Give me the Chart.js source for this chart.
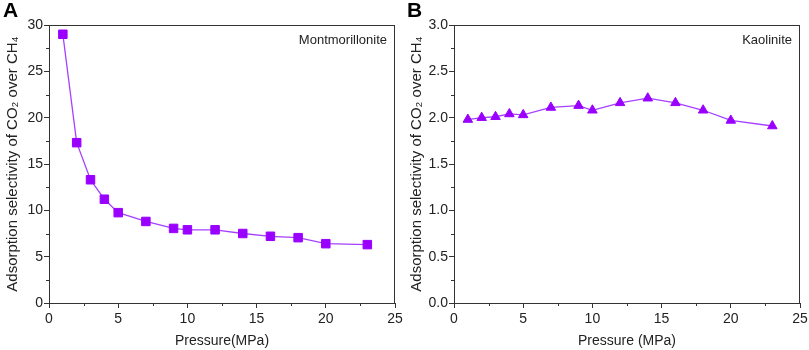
<!DOCTYPE html>
<html>
<head>
<meta charset="utf-8">
<script src="https://cdn.jsdelivr.net/npm/chart.js@4"></script>
<style>
  html, body { margin: 0; padding: 0; background: #fff; }
  #wrap { position: relative; width: 809px; height: 350px; }
  canvas { position: absolute; top: 0; }
  #chartA { left: 0; }
  #chartB { left: 404px; }
</style>
</head>
<body>
<div id="wrap">
  <canvas id="chartA" width="404" height="350"></canvas>
  <canvas id="chartB" width="405" height="350"></canvas>
</div>
<script>
// pressure values (MPa), same for both panels
const pressure = [1, 2, 3, 4, 5, 7, 9, 10, 12, 14, 16, 18, 20, 23];
// selectivity of CO2 over CH4
const montmorillonite = [29.0, 17.3, 13.3, 11.2, 9.75, 8.8, 8.05, 7.9, 7.9, 7.5, 7.2, 7.05, 6.4, 6.3];
const kaolinite = [1.98, 2.0, 2.01, 2.04, 2.03, 2.11, 2.13, 2.08, 2.16, 2.21, 2.16, 2.08, 1.97, 1.91];

const xTitle = 'Pressure(MPa)';
const xTitleB = 'Pressure (MPa)';
const yTitle = 'Adsorption selectivity of CO\u2082 over CH\u2084';

const purple = '#9900ff';
const lineColor = '#a640ff';
const axisColor = '#333333';
const textColor = '#222222';
const fontFamily = "'Liberation Sans', Arial, sans-serif";

// draws the box, minor ticks, panel letter and sample name
const framePlugin = {
    id: 'frame',
    afterDraw(chart, args, opts) {
        const ctx = chart.ctx;
        const a = chart.chartArea;
        const xs = chart.scales.x;
        const ys = chart.scales.y;
        ctx.save();
        ctx.strokeStyle = axisColor;
        ctx.lineWidth = 1;
        ctx.strokeRect(a.left + 0.5, a.top + 0.5, a.right - a.left - 1, a.bottom - a.top);

        // minor ticks halfway between the major ones
        ctx.beginPath();
        for (let v = xs.min + opts.xStep / 2; v < xs.max; v += opts.xStep) {
            const px = Math.round(xs.getPixelForValue(v)) + 0.5;
            ctx.moveTo(px, a.bottom);
            ctx.lineTo(px, a.bottom + 3);
        }
        for (let v = ys.min + opts.yStep / 2; v < ys.max; v += opts.yStep) {
            const py = Math.round(ys.getPixelForValue(v)) + 0.5;
            ctx.moveTo(a.left, py);
            ctx.lineTo(a.left - 3, py);
        }
        ctx.stroke();

        ctx.fillStyle = textColor;
        ctx.font = '13px ' + fontFamily;
        ctx.textAlign = 'right';
        ctx.textBaseline = 'middle';
        ctx.fillText(opts.name, a.right - 8, a.top + 15);

        ctx.fillStyle = '#000';
        ctx.font = 'bold 21px ' + fontFamily;
        ctx.textAlign = 'left';
        ctx.textBaseline = 'top';
        ctx.fillText(opts.panel, 3, 1);
        ctx.restore();
    }
};

function makeChart(canvasId, values, opts) {
    const points = pressure.map((p, i) => ({ x: p, y: values[i] }));
    const tickFont = { family: fontFamily, size: 14 };

    const config = {
        type: 'line',
        data: {
            datasets: [{
                data: points,
                borderColor: lineColor,
                borderWidth: 1.3,
                backgroundColor: purple,
                pointBackgroundColor: purple,
                pointBorderColor: purple,
                pointStyle: opts.pointStyle,
                pointRadius: opts.pointRadius,
                pointBorderWidth: 1,
                tension: 0
            }]
        },
        options: {
            responsive: false,
            animation: false,
            layout: { padding: { left: 0, right: 9, top: 25, bottom: 0 } },
            plugins: {
                legend: { display: false },
                tooltip: { enabled: false },
                frame: { name: opts.name, panel: opts.panel, xStep: 5, yStep: opts.yStep }
            },
            scales: {
                x: {
                    type: 'linear',
                    min: 0,
                    max: 25,
                    ticks: { stepSize: 5, color: textColor, font: tickFont, padding: 3, maxRotation: 0 },
                    grid: { drawOnChartArea: false, tickLength: 5, color: axisColor, tickColor: axisColor },
                    border: { display: true, color: axisColor },
                    title: { display: true, text: opts.xTitle, color: textColor, font: { family: fontFamily, size: 14 }, padding: { top: 4, bottom: 0 } },
                    afterFit: function (scale) {
                        scale.height = 47;
                        // let the last label hang into the right padding
                        scale.paddingLeft = 0;
                        scale.paddingRight = 0;
                    }
                },
                y: {
                    type: 'linear',
                    min: 0,
                    max: opts.yMax,
                    ticks: {
                        stepSize: opts.yStep,
                        color: textColor,
                        font: tickFont,
                        padding: 1,
                        callback: opts.yLabel
                    },
                    grid: { drawOnChartArea: false, tickLength: 5, color: axisColor, tickColor: axisColor },
                    border: { display: true, color: axisColor },
                    title: { display: true, text: yTitle, color: textColor, font: { family: fontFamily, size: 15 }, padding: { top: 4, bottom: 0 } },
                    afterFit: function (scale) {
                        scale.width = opts.yWidth;
                        scale.paddingTop = 0;
                        scale.paddingBottom = 0;
                    }
                }
            }
        },
        plugins: [framePlugin]
    };

    return new Chart(document.getElementById(canvasId), config);
}

makeChart('chartA', montmorillonite, {
    name: 'Montmorillonite',
    panel: 'A',
    xTitle: xTitle,
    yMax: 30,
    yStep: 5,
    yWidth: 49,
    pointStyle: 'rect',
    pointRadius: 6,
    yLabel: v => v
});

makeChart('chartB', kaolinite, {
    name: 'Kaolinite',
    panel: 'B',
    xTitle: xTitleB,
    yMax: 3,
    yStep: 0.5,
    yWidth: 50,
    pointStyle: 'triangle',
    pointRadius: 5.5,
    yLabel: v => v.toFixed(1)
});
</script>
</body>
</html>
